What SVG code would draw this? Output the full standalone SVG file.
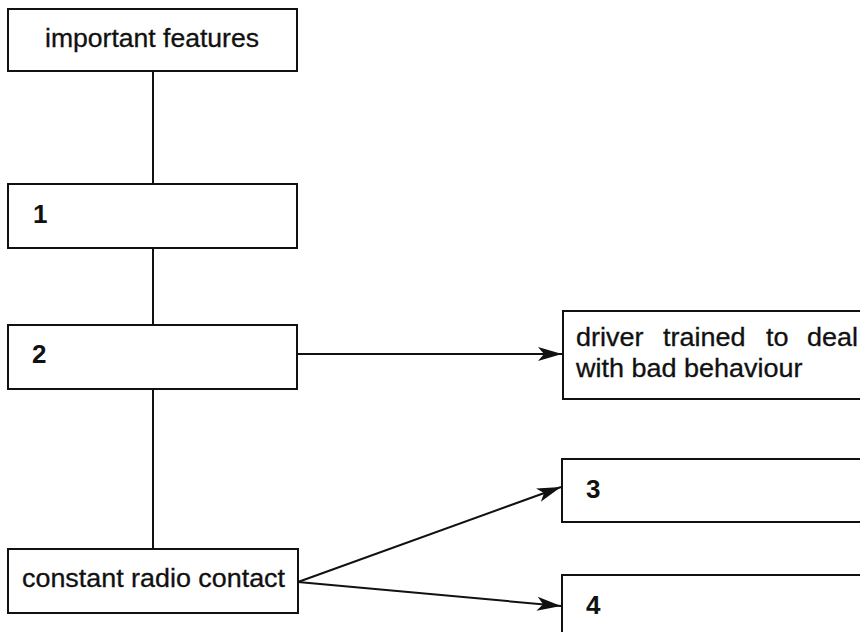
<svg xmlns="http://www.w3.org/2000/svg" width="860" height="632" viewBox="0 0 860 632">
<style>
.box{fill:#fff;stroke:#111;stroke-width:2}
.t{font-family:"Liberation Sans",Arial,sans-serif;font-size:25px;fill:#111;stroke:#111;stroke-width:0.3}
.n{font-family:"Liberation Sans",Arial,sans-serif;font-size:26px;font-weight:bold;fill:#111}
.c{stroke:#111;stroke-width:2;fill:none}
</style>
<defs>
<marker id="ah" markerUnits="userSpaceOnUse" markerWidth="26" markerHeight="16" refX="24" refY="7" orient="auto" viewBox="0 0 26 14">
<path d="M0,0 L24,7 L0,14 L6,7 Z" fill="#111"/>
</marker>
</defs>
<rect width="860" height="632" fill="#fff"/>
<g id="connectors">
<line class="c" x1="153" y1="71" x2="153" y2="184"/>
<line class="c" x1="153" y1="248" x2="153" y2="325"/>
<line class="c" x1="153" y1="389" x2="153" y2="549"/>
<line class="c" x1="297" y1="354" x2="562" y2="354" marker-end="url(#ah)"/>
<line class="c" x1="298" y1="582" x2="561" y2="487" marker-end="url(#ah)"/>
<line class="c" x1="298" y1="582" x2="561" y2="606" marker-end="url(#ah)"/>
</g>
<g id="important-features">
<rect class="box" x="8" y="9" width="289" height="62"/>
<text class="t" x="45" y="47" textLength="214" lengthAdjust="spacingAndGlyphs">important features</text>
</g>
<g id="node-1">
<rect class="box" x="8" y="184" width="289" height="64"/>
<text class="n" x="33" y="223">1</text>
</g>
<g id="node-2">
<rect class="box" x="8" y="325" width="289" height="64"/>
<text class="n" x="32" y="363">2</text>
</g>
<g id="driver">
<rect class="box" x="563" y="311" width="310" height="88"/>
<text class="t" transform="scale(1.08,1)" y="346"><tspan x="533.3">driver</tspan><tspan x="613.9">trained</tspan><tspan x="709.3">to</tspan><tspan x="747.2">deal</tspan></text>
<text class="t" transform="scale(1.08,1)" x="533.3" y="377">with bad behaviour</text>
</g>
<g id="radio">
<rect class="box" x="8" y="549" width="290" height="64"/>
<text class="t" x="22" y="587" textLength="263" lengthAdjust="spacingAndGlyphs">constant radio contact</text>
</g>
<g id="node-3">
<rect class="box" x="562" y="459" width="310" height="63"/>
<text class="n" x="586" y="498">3</text>
</g>
<g id="node-4">
<rect class="box" x="562" y="575" width="310" height="70"/>
<text class="n" x="586" y="614">4</text>
</g>
</svg>
